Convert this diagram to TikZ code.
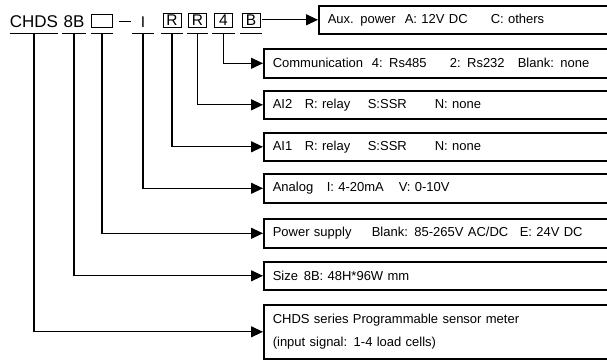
\documentclass[tikz,border=0pt]{standalone}
\usepackage{fontspec}
\setmainfont{Liberation Sans}
\usetikzlibrary{arrows.meta}
\setlength{\fboxsep}{1pt}
\setlength{\fboxrule}{0.7pt}
\newcommand{\cbox}[2][19pt]{\raisebox{1.2pt}{\framebox[#1]{#2}}}
\newcommand{\col}[2]{\makebox[#1][l]{#2}}
\newcommand{\boxfont}{\fontsize{13}{23}\selectfont}
\newcommand{\letfont}{\fontsize{15.5}{17}\selectfont}
\begin{document}
\begin{tikzpicture}[x=1pt, y=-1pt]
    \tikzset{code/.style={anchor=base, text height=12pt, text depth=0pt, inner ysep=6pt, inner xsep=0pt, font=\fontsize{17}{20}\selectfont},
        opt/.style={draw, line width=1.6pt, anchor=north west, inner xsep=9pt, inner ysep=0pt, text width=334pt, align=left, minimum height=28.5pt, font=\boxfont},
        link/.style={line width=1.2pt, -{Triangle[length=12pt, width=11pt]}},
        uline/.style={line width=1.2pt}}
    \clip (0,0) rectangle (607,360);
    \node[code, minimum width=48pt] (cSeries) at (34,27) {CHDS};
    \node[code, minimum width=23pt] (cSize) at (74,27) {8B};
    \node[code, minimum width=22pt] (cPower) at (102,27) {\cbox[22pt]{\rule{0pt}{10.5pt}}};
    \node[code] (cDash) at (124.5,27) {\raisebox{5pt}{\rule{12pt}{1.3pt}}};
    \node[code, minimum width=21pt] (cInput) at (143,27) {\letfont I};
    \node[code, minimum width=21pt] (cAIa) at (172,27) {\cbox{\letfont R}};
    \node[code, minimum width=21pt] (cAIb) at (197.5,27) {\cbox{\letfont R}};
    \node[code, minimum width=23pt] (cComm) at (223.5,27) {\cbox{\letfont 4}};
    \node[code, minimum width=22pt] (cAux) at (251,27) {\cbox{\letfont B}};

    \node[opt, text width=279pt, minimum height=28pt] (aux) at (318,5) {\col{77pt}{Aux. power}\col{86pt}{A: 12V DC}C: others};
    \node[opt, minimum height=29pt] (comm) at (263,48) {\col{99pt}{Communication}\col{78pt}{4: Rs485}\col{68pt}{2: Rs232}Blank: none};
    \node[opt, minimum height=28pt] (aib) at (263,90) {\col{32pt}{AI2}\col{63pt}{R: relay}\col{67pt}{S:SSR}N: none};
    \node[opt, minimum height=28pt] (aia) at (263,132) {\col{32pt}{AI1}\col{63pt}{R: relay}\col{67pt}{S:SSR}N: none};
    \node[opt, minimum height=29pt] (input) at (263,173) {\col{54pt}{Analog}\col{72pt}{I: 4-20mA}V: 0-10V};
    \node[opt, minimum height=29pt] (power) at (263,218) {\col{99pt}{Power supply}\col{148pt}{Blank: 85-265V AC/DC}E: 24V DC};
    \node[opt, minimum height=28pt] (size) at (263,261) {\col{31pt}{Size}8B: 48H*96W mm};
    \node[opt, minimum height=54pt] (series) at (263,304) {CHDS series Programmable sensor meter\\(input signal: 1-4 load cells)};

    \foreach \c in {cSeries, cSize, cPower, cInput, cAIa, cAIb, cComm, cAux}
        \draw[uline] (\c.south west) -- (\c.south east);
    \draw[link] (cAux.east |- aux.west) -- (aux.west);
    \draw[link] (cComm.south) |- (comm.west);
    \draw[link] (cAIb.south) |- (aib.west);
    \draw[link] (cAIa.south) |- (aia.west);
    \draw[link] (cInput.south) |- (input.west);
    \draw[link] (cPower.south) |- (power.west);
    \draw[link] (cSize.south) |- (size.west);
    \draw[link] (cSeries.south) |- (series.west);
\end{tikzpicture}
\end{document}
